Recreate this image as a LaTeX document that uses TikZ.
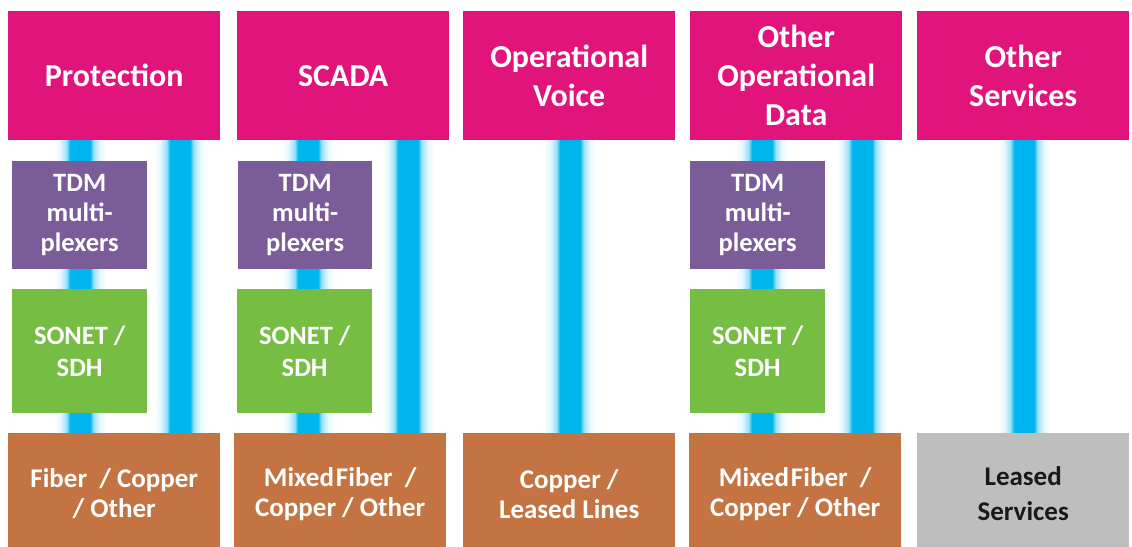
\documentclass[tikz,border=0pt]{standalone}
\usepackage{fontspec}
\setmainfont{Carlito}
\usetikzlibrary{backgrounds,calc}

\definecolor{servicemagenta}{HTML}{E0147B}
\definecolor{tdmpurple}{HTML}{7A5C99}
\definecolor{sonetgreen}{HTML}{76BD43}
\definecolor{mediabrown}{HTML}{C47443}
\definecolor{leasedgray}{HTML}{BEBEBE}
\definecolor{linkcyan}{HTML}{00B4ED}

% soft-edged vertical link: white -> cyan core -> white across its width
\pgfdeclarehorizontalshading{glowlink}{100bp}{%
  color(0bp)=(white); color(25bp)=(white);
  color(31bp)=(linkcyan!10!white); color(37bp)=(linkcyan!40!white);
  color(40.5bp)=(linkcyan); color(59.5bp)=(linkcyan);
  color(63bp)=(linkcyan!40!white); color(69bp)=(linkcyan!10!white);
  color(75bp)=(white); color(100bp)=(white)}

\tikzset{
  box/.style={rectangle, anchor=north west, inner sep=0pt, align=center,
    text=white, font=\bfseries},
  service/.style={box, fill=servicemagenta, minimum width=212pt, minimum height=129pt,
    font=\fontsize{32}{39}\selectfont\bfseries},
  tdm/.style={box, fill=tdmpurple, minimum height=108pt,
    font=\fontsize{26.5}{30}\selectfont\bfseries},
  sonet/.style={box, fill=sonetgreen, minimum height=124pt,
    font=\fontsize{26.5}{32.5}\selectfont\bfseries},
  % media boxes run past the lower page edge, where they are cut off
  media/.style={box, fill=mediabrown, minimum width=212pt, minimum height=121pt,
    font=\fontsize{27}{30}\selectfont\bfseries},
  leased/.style={media, fill=leasedgray, text=black!90,
    font=\fontsize{27}{35}\selectfont\bfseries},
  link/.style={shading=glowlink},
}

\newcommand\glowbar[3]{% x-coordinate, upper node, lower node
  \shade[link] ($(#1 |- #2.south)+(-26pt,0)$) rectangle ($(#1 |- #3.north)+(26pt,0)$);}

\begin{document}
\begin{tikzpicture}[x=1pt, y=-1pt]
\useasboundingbox (0,0) rectangle (1132,546);

% service layer
\node[service] (prot)  at (8,11)   {Protection};
\node[service] (scada) at (237,11) {SCADA};
\node[service] (voice) at (463,11) {Operational\\Voice};
\node[service] (odata) at (690,11) {Other\\Operational\\Data};
\node[service] (other) at (917,11) {Other\\Services};

% TDM multiplexers
\node[tdm, minimum width=135pt] (tdmA) at (12,161)  {TDM\\multi-\\plexers};
\node[tdm, minimum width=134pt] (tdmB) at (238,161) {TDM\\multi-\\plexers};
\node[tdm, minimum width=135pt] (tdmD) at (690,161) {TDM\\multi-\\plexers};

% SONET / SDH
\node[sonet, minimum width=135pt] (sonA) at (12,289)  {SONET /\\SDH};
\node[sonet, minimum width=135pt] (sonB) at (237,289) {SONET /\\SDH};
\node[sonet, minimum width=135pt] (sonD) at (690,289) {SONET /\\SDH};

% transport media
\node[media]  (medA) at (8,433)   {Fiber\ \ / Copper\\/ Other};
\node[media]  (medB) at (234,433) {Mixed\hspace{2pt}Fiber\ \ /\\Copper / Other};
\node[media]  (medC) at (463,433) {Copper /\\Leased Lines};
\node[media]  (medD) at (689,433) {Mixed\hspace{2pt}Fiber\ \ /\\Copper / Other};
\node[leased] (medE) at (917,433) {Leased\\Services};

% x positions of the links
\coordinate (xA1) at (80,0);   \coordinate (xA2) at (180,0);
\coordinate (xB1) at (308,0);  \coordinate (xB2) at (408,0);
\coordinate (xC)  at (570,0);
\coordinate (xD1) at (762,0);  \coordinate (xD2) at (862,0);
\coordinate (xE)  at (1024,0);

\begin{pgfonlayer}{background}
  \glowbar{xA1}{prot}{medA}
  \glowbar{xA2}{prot}{medA}
  \glowbar{xB1}{scada}{medB}
  \glowbar{xB2}{scada}{medB}
  \glowbar{xC}{voice}{medC}
  \glowbar{xD1}{odata}{medD}
  \glowbar{xD2}{odata}{medD}
  \glowbar{xE}{other}{medE}
\end{pgfonlayer}
\end{tikzpicture}
\end{document}
